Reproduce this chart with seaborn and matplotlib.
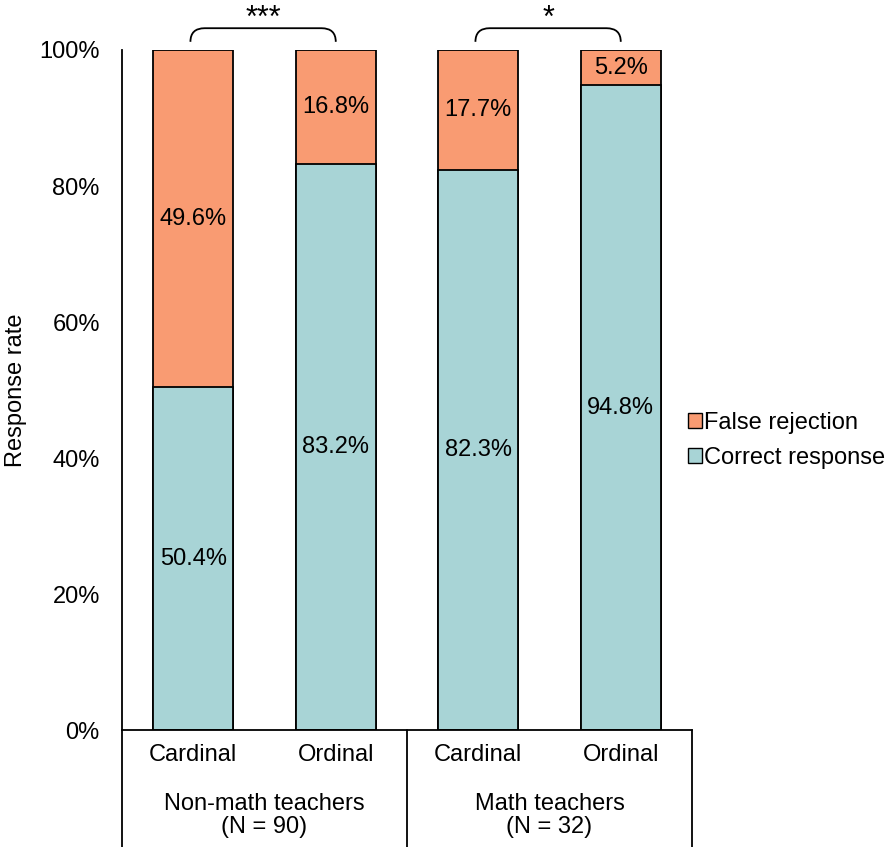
import pandas as pd
import numpy as np
import matplotlib.pyplot as plt
import matplotlib.transforms as mtransforms
from matplotlib.path import Path
from matplotlib.patches import PathPatch, Patch
import seaborn as sns

# Data
keys = ['nm_card', 'nm_ord', 'm_card', 'm_ord']
conditions = ['Cardinal', 'Ordinal', 'Cardinal', 'Ordinal']
groups = ['Non-math teachers\n(N = 90)', 'Math teachers\n(N = 32)']
correct = [50.4, 83.2, 82.3, 94.8]
false_rej = [49.6, 16.8, 17.7, 5.2]
signif = ['***', '*']

orange = '#F99B72'
teal = '#A8D4D6'

sns.set_theme(style='white')
plt.rcParams['font.family'] = ['Liberation Sans', 'DejaVu Sans']
plt.rcParams['text.color'] = 'black'
plt.rcParams['axes.labelcolor'] = 'black'
plt.rcParams['xtick.color'] = 'black'
plt.rcParams['ytick.color'] = 'black'

df = pd.DataFrame({'key': keys, 'correct': correct, 'false': false_rej})
df['total'] = df['correct'] + df['false']

fig = plt.figure(figsize=(8.92, 8.47), dpi=100)
ax = fig.add_axes([0.1368, 0.138, 0.639, 0.803])

sns.barplot(data=df, x='key', y='total', order=keys, color=orange,
            edgecolor='black', linewidth=1.3, width=0.56, saturation=1, ax=ax)
sns.barplot(data=df, x='key', y='correct', order=keys, color=teal,
            edgecolor='black', linewidth=1.3, width=0.56, saturation=1, ax=ax)

# value labels, centred in each segment
for i, (c, f) in enumerate(zip(correct, false_rej)):
    ax.text(i, c / 2, f'{c:.1f}%', ha='center', va='center', fontsize=17)
    ax.text(i, c + f / 2, f'{f:.1f}%', ha='center', va='center', fontsize=17)

ax.set_ylim(0, 100)
ax.set_xlim(-0.5, 3.5)
ax.set_yticks(np.arange(0, 101, 20))
ax.set_yticklabels([f'{v}%' for v in range(0, 101, 20)], fontsize=17)
ax.set_xticks(range(4))
ax.set_xticklabels(conditions, fontsize=17)
ax.tick_params(axis='y', length=0, pad=16)
ax.tick_params(axis='x', length=0, pad=10)
ax.set_xlabel('')
ax.set_ylabel('Response rate', fontsize=17, labelpad=9)

for s in ['top', 'right']:
    ax.spines[s].set_visible(False)
for s in ['left', 'bottom']:
    ax.spines[s].set_color('black')
    ax.spines[s].set_linewidth(1.3)

trans = mtransforms.blended_transform_factory(ax.transData, ax.transAxes)

# group labels and separators
for g, label in enumerate(groups):
    ax.text(2 * g + 0.5, -0.125, label, transform=trans, ha='center',
            va='center', fontsize=17, linespacing=1.05)
for xs in [-0.5, 1.5, 3.5]:
    ax.plot([xs, xs], [0, -0.175], transform=trans, color='black',
            lw=1.3, clip_on=False)

# significance brackets
for g, star in enumerate(signif):
    x0, x1 = 2 * g - 0.02, 2 * g + 1.0
    ylo, yhi, r = 1.012, 1.032, 0.1
    verts = [(x0, ylo), (x0, yhi), (x0 + r, yhi), (x1 - r, yhi),
             (x1, yhi), (x1, ylo)]
    codes = [Path.MOVETO, Path.CURVE3, Path.CURVE3, Path.LINETO,
             Path.CURVE3, Path.CURVE3]
    ax.add_patch(PathPatch(Path(verts, codes), transform=trans, fill=False,
                           lw=1.3, edgecolor='black', clip_on=False))
    ax.text((x0 + x1) / 2, 1.045, star, transform=trans, ha='center',
            va='center', fontsize=22)

handles = [Patch(facecolor=orange, edgecolor='black', label='False rejection'),
           Patch(facecolor=teal, edgecolor='black', label='Correct response')]
fig.legend(handles=handles, loc='center left', bbox_to_anchor=(0.771, 0.4805),
           frameon=False, fontsize=17, handlelength=0.6, handleheight=0.6,
           handletextpad=0.1, labelspacing=0.55, borderaxespad=0, borderpad=0)

fig.savefig('out.png', dpi=100)
